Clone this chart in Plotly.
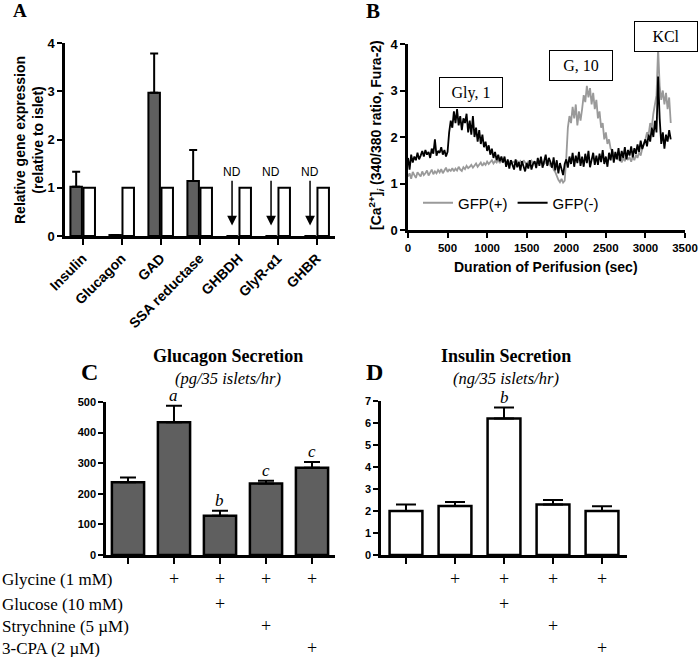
import plotly.graph_objects as go

# ---------------- Panel A data ----------------
genes = ["Insulin", "Glucagon", "GAD", "SSA reductase", "GHBDH", "GlyR-α1", "GHBR"]
sorted_expr = [1.02, 0.02, 2.97, 1.14, 0, 0, 0]
sorted_err = [0.31, 0, 0.81, 0.64, 0, 0, 0]
islet_expr = [1, 1, 1, 1, 1, 1, 1]
not_detected = [False, False, False, False, True, True, True]

# ---------------- Panel B data ----------------
time_sec = list(range(0, 3340, 20))
gfp_pos = [
    1.15, 1.22, 1.10, 1.25, 1.18, 1.12, 1.24, 1.20, 1.15, 1.26,
    1.18, 1.22, 1.28, 1.17, 1.24, 1.30, 1.20, 1.26, 1.22, 1.29,
    1.24, 1.31, 1.22, 1.28, 1.34, 1.25, 1.30, 1.27, 1.33, 1.26,
    1.32, 1.28, 1.36, 1.30, 1.27, 1.35, 1.31, 1.38, 1.33, 1.36,
    1.40, 1.34, 1.39, 1.43, 1.36, 1.41, 1.45, 1.38, 1.44, 1.40,
    1.47, 1.42, 1.46, 1.50, 1.43, 1.48, 1.45, 1.52, 1.44, 1.49,
    1.46, 1.51, 1.44, 1.48, 1.42, 1.50, 1.45, 1.47, 1.41, 1.49,
    1.44, 1.48, 1.42, 1.50, 1.45, 1.40, 1.47, 1.43, 1.49, 1.44,
    1.46, 1.41, 1.48, 1.43, 1.50, 1.45, 1.42, 1.47, 1.40, 1.44,
    1.38, 1.42, 1.30, 1.25, 1.15, 1.08, 1.03, 1.10, 1.02, 1.06,
    1.55, 2.20, 2.45, 2.30, 2.65, 2.40, 2.70, 2.25, 2.55, 2.35,
    2.60, 2.90, 2.75, 3.10, 2.85, 3.05, 2.70, 2.95, 2.60, 2.80,
    2.40, 2.55, 2.20, 2.30, 1.95, 2.10, 1.85, 1.95, 1.75, 1.70,
    1.62, 1.55, 1.60, 1.50, 1.58, 1.45, 1.55, 1.48, 1.60, 1.52,
    1.56, 1.47, 1.58, 1.50, 1.62, 1.55, 1.68, 1.60, 1.75, 1.85,
    1.95, 2.10, 2.05, 2.30, 2.20, 2.50, 2.70, 2.90, 3.90, 3.10,
    2.80, 3.00, 2.70, 2.95, 2.60, 2.85, 2.30,
]
gfp_neg = [
    1.55, 1.30, 1.62, 1.45, 1.58, 1.50, 1.66, 1.52, 1.60, 1.70,
    1.58, 1.72, 1.62, 1.68, 1.55, 1.75, 1.64, 1.95, 1.60, 1.70,
    1.66, 1.78, 1.62, 1.72, 1.58, 1.68, 2.10, 2.35, 2.20, 2.55,
    2.30, 2.60, 2.25, 2.45, 2.15, 2.40, 2.30, 2.50, 2.10, 2.35,
    2.05, 2.45, 2.00, 2.20, 1.90, 2.15, 1.85, 2.05, 1.78, 1.90,
    1.70, 1.82, 1.62, 1.75, 1.55, 1.68, 1.50, 1.62, 1.48, 1.58,
    1.45, 1.58, 1.36, 1.52, 1.32, 1.50, 1.40, 1.30, 1.52, 1.35,
    1.46, 1.28, 1.48, 1.36, 1.26, 1.44, 1.32, 1.50, 1.30, 1.42,
    1.48, 1.33, 1.55, 1.38, 1.58, 1.34, 1.50, 1.62, 1.38, 1.55,
    1.46, 1.34, 1.56, 1.28, 1.50, 1.22, 1.44, 1.32, 1.18, 1.42,
    1.52, 1.34, 1.58, 1.42, 1.66, 1.36, 1.60, 1.44, 1.68, 1.38,
    1.58, 1.36, 1.64, 1.44, 1.70, 1.35, 1.55, 1.66, 1.40, 1.60,
    1.40, 1.64, 1.46, 1.72, 1.42, 1.58, 1.36, 1.66, 1.50, 1.74,
    1.45, 1.68, 1.52, 1.76, 1.48, 1.70, 1.55, 1.78, 1.52, 1.72,
    1.60, 1.80, 1.56, 1.76, 1.64, 1.84, 1.68, 1.92, 1.74, 1.86,
    1.95, 1.80, 2.05, 1.90, 2.20, 2.00, 2.35, 2.10, 3.30, 2.40,
    1.85, 2.10, 1.75, 2.05, 1.90, 2.15, 1.95,
]
stimuli = ["Gly, 1", "G, 10", "KCl"]

# ---------------- Panels C / D data ----------------
groups = [0, 1, 2, 3, 4]
glucagon = [238, 434, 128, 234, 285]
glucagon_err = [15, 54, 17, 9, 19]
glucagon_sig = ["", "a", "b", "c", "c"]
insulin = [2.0, 2.23, 6.2, 2.3, 2.0]
insulin_err = [0.3, 0.18, 0.5, 0.2, 0.22]
insulin_sig = ["", "", "b", "", ""]
treatments = ["Glycine (1 mM)", "Glucose (10 mM)", "Strychnine (5 µM)", "3-CPA (2 µM)"]
treatment_matrix = [
    [0, 1, 1, 1, 1],
    [0, 0, 1, 0, 0],
    [0, 0, 0, 1, 0],
    [0, 0, 0, 0, 1],
]

SANS = "Arial, Liberation Sans, sans-serif"
SERIF = "Times New Roman, Liberation Serif, serif"
H = 657.0
W = 700.0


def py(px):
    return 1 - px / H


def px_(x):
    return x / W


fig = go.Figure()

# Panel A
fig.add_trace(go.Bar(
    x=genes, y=sorted_expr, xaxis="x", yaxis="y", showlegend=False,
    marker=dict(color="#5f5f5f", line=dict(color="black", width=2)),
    error_y=dict(type="data", symmetric=False, array=sorted_err,
                 arrayminus=[0] * len(genes), color="black", thickness=2, width=4),
))
fig.add_trace(go.Bar(
    x=genes, y=islet_expr, xaxis="x", yaxis="y", showlegend=False,
    marker=dict(color="white", line=dict(color="black", width=2)),
))

# Panel B
fig.add_trace(go.Scatter(
    x=time_sec, y=gfp_pos, mode="lines", name="GFP(+)", xaxis="x2", yaxis="y2",
    line=dict(color="#9a9a9a", width=1.8),
))
fig.add_trace(go.Scatter(
    x=time_sec, y=gfp_neg, mode="lines", name="GFP(-)", xaxis="x2", yaxis="y2",
    line=dict(color="black", width=1.8),
))

# Panel C
fig.add_trace(go.Bar(
    x=groups, y=glucagon, width=0.7, xaxis="x3", yaxis="y3", showlegend=False,
    marker=dict(color="#5f5f5f", line=dict(color="black", width=2.5)),
    error_y=dict(type="data", symmetric=False, array=glucagon_err,
                 arrayminus=[0] * 5, color="black", thickness=2, width=8),
))
# Panel D
fig.add_trace(go.Bar(
    x=groups, y=insulin, width=0.67, xaxis="x4", yaxis="y4", showlegend=False,
    marker=dict(color="white", line=dict(color="black", width=2.5)),
    error_y=dict(type="data", symmetric=False, array=insulin_err,
                 arrayminus=[0] * 5, color="black", thickness=2, width=10),
))

axis_common = dict(showline=True, linecolor="black", linewidth=2.5, ticks="outside",
                   ticklen=5, tickwidth=2, tickcolor="black", showgrid=False,
                   zeroline=False, fixedrange=True, automargin=False)

fig.update_layout(
    template="none",
    width=700, height=657, autosize=False,
    margin=dict(l=0, r=0, t=0, b=0, autoexpand=False),
    paper_bgcolor="white", plot_bgcolor="white",
    barmode="group", bargap=0.33, bargroupgap=0.12,
    font=dict(family=SANS, color="black"),
    xaxis=dict(axis_common, domain=[px_(65), px_(335)], range=[-0.454, 6.47],
               tickangle=-45, tickfont=dict(size=14, weight="bold", color="black"),
               anchor="y", ticklen=6),
    yaxis=dict(axis_common, domain=[py(236), py(43)], range=[0, 4], dtick=1,
               tickfont=dict(size=13, weight="bold", color="black"), anchor="x"),
    xaxis2=dict(axis_common, domain=[px_(408), px_(685)], range=[0, 3500], dtick=500,
                tickfont=dict(size=11.5, weight="bold", color="black"), anchor="y2"),
    yaxis2=dict(axis_common, domain=[py(230), py(44)], range=[0, 4], dtick=1,
                tickfont=dict(size=13, weight="bold", color="black"), anchor="x2"),
    xaxis3=dict(axis_common, domain=[px_(106), px_(335)], range=[-0.478, 4.5],
                tickvals=groups, showticklabels=False, anchor="y3", ticklen=6),
    yaxis3=dict(axis_common, domain=[py(555), py(402)], range=[0, 500], dtick=100,
                tickfont=dict(size=11, weight="bold", color="black"), anchor="x3"),
    xaxis4=dict(axis_common, domain=[px_(381), px_(627)], range=[-0.51, 4.51],
                tickvals=groups, showticklabels=False, anchor="y4", ticklen=6),
    yaxis4=dict(axis_common, domain=[py(555), py(401)], range=[0, 7], dtick=1,
                tickfont=dict(size=11, weight="bold", color="black"), anchor="x4"),
    legend=dict(orientation="h", x=px_(418), y=py(203), xanchor="left", yanchor="middle",
                font=dict(size=15, family=SANS, color="black"), bgcolor="rgba(0,0,0,0)",
                itemwidth=30),
)


def text_ann(text, x, y, size, family, **kw):
    d = dict(text=text, x=px_(x), y=py(y), xref="paper", yref="paper", showarrow=False,
             xanchor="center", yanchor="middle",
             font=dict(family=family, size=size, color="black"))
    d.update(kw)
    return d


ann = []
# panel letters
for letter, x, y, size in [("A", 20, 11, 19), ("B", 373, 11, 21), ("C", 89, 372, 24), ("D", 374, 372, 24)]:
    ann.append(text_ann(f"<b>{letter}</b>", x, y, size, SERIF))

# A y title
ann.append(text_ann("<b>Relative gene expression<br>(relative to islet)</b>", 29, 140, 14, SANS,
                    textangle=-90))
# ND arrows
for i, nd in enumerate(not_detected):
    if nd:
        ann.append(dict(text="ND", x=i - 0.17, y=0.22, xref="x", yref="y",
                        ax=i - 0.17, ay=1.32, axref="x", ayref="y",
                        showarrow=True, arrowhead=2, arrowsize=1.3, arrowwidth=1.5,
                        arrowcolor="black", font=dict(family=SANS, size=12, color="black")))

# B titles
ann.append(text_ann("<b>[Ca<sup>2+</sup>]<sub><i>i</i></sub> (340/380 ratio, Fura-2)</b>",
                    376, 135, 14, SANS, textangle=-90))
ann.append(text_ann("<b>Duration of Perifusion (sec)</b>", 546, 267, 14, SANS))
# stimulus boxes
for label, (cx, cy) in zip(stimuli, [(471, 92), (580.5, 65.5), (665.5, 36.5)]):
    ann.append(text_ann(label, cx, cy, 16, SERIF, bgcolor="white", bordercolor="black",
                        borderwidth=1, borderpad=0, width=62, height=29))

# C / D titles
for title, sub, cx in [("Glucagon Secretion", "(pg/35 islets/hr)", 228),
                       ("Insulin Secretion", "(ng/35 islets/hr)", 506)]:
    ann.append(text_ann(f"<b>{title}</b>", cx, 356, 18, SERIF))
    ann.append(text_ann(f"<i>{sub}</i>", cx, 378, 16.5, SERIF))

# significance letters
for vals, errs, sig, xr, yr in [(glucagon, glucagon_err, glucagon_sig, "x3", "y3"),
                                (insulin, insulin_err, insulin_sig, "x4", "y4")]:
    for g, v, e, s in zip(groups, vals, errs, sig):
        if s:
            ann.append(dict(text=f"<i>{s}</i>", x=g, y=v + e, xref=xr, yref=yr,
                            xanchor="center", yanchor="bottom", showarrow=False, yshift=-1,
                            font=dict(family=SERIF, size=17, color="black")))

# treatment rows
row_y = [579, 604, 626, 648]
for r, name in enumerate(treatments):
    ann.append(dict(text=name, x=0, y=py(row_y[r]), xref="paper", yref="paper",
                    xanchor="left", yanchor="middle", showarrow=False,
                    font=dict(family=SERIF, size=17, color="black")))
    for g, flag in zip(groups, treatment_matrix[r]):
        if flag:
            for xr in ("x3", "x4"):
                ann.append(dict(text="+", x=g, y=py(row_y[r]), xref=xr, yref="paper",
                                xanchor="center", yanchor="middle", showarrow=False,
                                font=dict(family=SERIF, size=18, color="black")))

fig.update_layout(annotations=ann)
fig.write_html("out.html", config={"displayModeBar": False},
               post_script="document.body.style.margin='0';document.body.style.overflow='hidden';")
